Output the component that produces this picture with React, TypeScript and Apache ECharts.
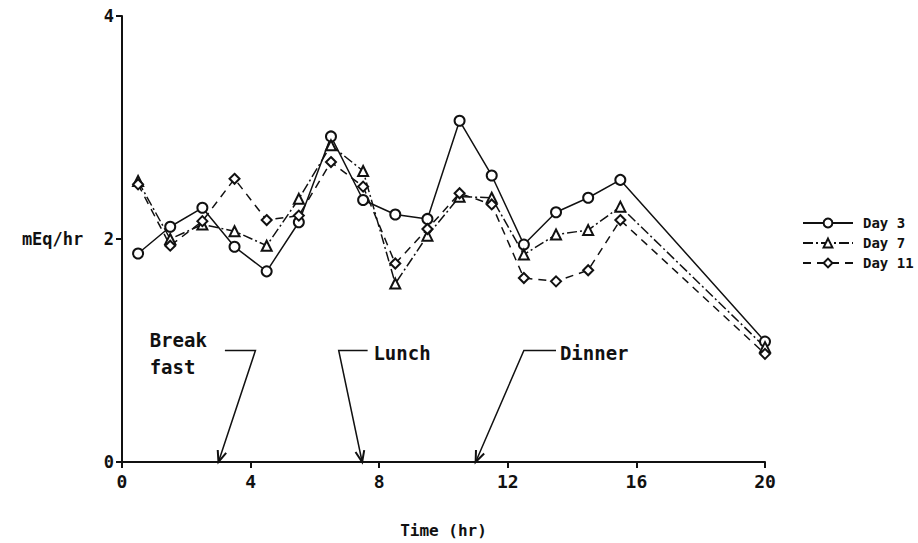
import React, { useEffect, useRef } from "react";
import * as echarts from "echarts";

// Sampling times (hr) and excretion rates (mEq/hr)
const hours = [0.5, 1.5, 2.5, 3.5, 4.5, 5.5, 6.5, 7.5, 8.5, 9.5, 10.5, 11.5, 12.5, 13.5, 14.5, 15.5, 20];
const day3 = [1.87, 2.11, 2.28, 1.93, 1.71, 2.15, 2.92, 2.35, 2.22, 2.18, 3.06, 2.57, 1.95, 2.24, 2.37, 2.53, 1.08];
const day7 = [2.52, 2.0, 2.13, 2.07, 1.94, 2.36, 2.84, 2.61, 1.6, 2.03, 2.38, 2.37, 1.86, 2.04, 2.08, 2.29, 1.03];
const day11 = [2.49, 1.94, 2.16, 2.54, 2.17, 2.21, 2.69, 2.47, 1.78, 2.09, 2.41, 2.31, 1.65, 1.62, 1.72, 2.17, 0.97];

const seriesNames = ["Day 3", "Day 7", "Day 11"];

// Meal times (hr) marked by arrows on the time axis
const mealLabels = ["Break\nfast", "Lunch", "Dinner"];
const mealTimes = [3.0, 7.47, 11.0];

// Callout geometry in axis units: leader runs from `from` to `elbow` at height `y`,
// then drops to the meal time on the axis; text is anchored at (textX, textY).
const callouts = [
  { from: 3.2, elbow: 4.15, y: 1.0, textX: 0.86, textY: 0.97 },
  { from: 7.64, elbow: 6.74, y: 1.0, textX: 7.82, textY: 0.98 },
  { from: 13.5, elbow: 12.5, y: 1.0, textX: 13.62, textY: 0.98 },
];

const FONT = "'DejaVu Sans Mono', 'Liberation Mono', monospace";
const INK = "#111";

const pairs = (ys: number[]) => hours.map((h, i) => [h, ys[i]]);

export default function App() {
  const ref = useRef<HTMLDivElement>(null);

  useEffect(() => {
    if (!ref.current) return;
    const chart = echarts.init(ref.current, null, { renderer: "svg" });

    const lineSeries = (name: string, ys: number[], symbol: string, size: number, dash: any) => ({
      name,
      type: "line",
      data: pairs(ys),
      symbol,
      symbolSize: size,
      showAllSymbol: true,
      lineStyle: { color: INK, width: 1.5, type: dash },
      itemStyle: { color: INK, borderColor: INK, borderWidth: 1.8 },
      z: 3,
    });

    chart.setOption({
      animation: false,
      backgroundColor: "#fff",
      grid: { left: 122, right: 153, top: 16, bottom: 78 },
      xAxis: {
        type: "value",
        min: 0,
        max: 20,
        interval: 4,
        name: "Time (hr)",
        nameLocation: "middle",
        nameGap: 60,
        nameTextStyle: { fontFamily: FONT, fontSize: 16, fontWeight: "bold", color: INK },
        axisLine: { lineStyle: { color: INK, width: 2 } },
        axisTick: { show: true, length: 6, inside: false, lineStyle: { color: INK, width: 2 } },
        axisLabel: { fontFamily: FONT, fontSize: 18, fontWeight: "bold", color: INK, margin: 10 },
        splitLine: { show: false },
      },
      yAxis: {
        type: "value",
        min: 0,
        max: 4,
        interval: 2,
        axisLine: { show: true, lineStyle: { color: INK, width: 2 } },
        axisTick: { show: true, length: 6, lineStyle: { color: INK, width: 2 } },
        axisLabel: {
          fontFamily: FONT,
          fontSize: 17,
          fontWeight: "bold",
          color: INK,
          margin: 8,
          formatter: (v: number) => (v === 2 ? "mEq/hr  2" : String(v)),
        },
        splitLine: { show: false },
      },
      legend: {
        orient: "vertical",
        left: 797,
        top: 211,
        itemWidth: 50,
        itemHeight: 11,
        itemGap: 6,
        data: seriesNames,
        textStyle: { fontFamily: FONT, fontSize: 14, fontWeight: "bold", color: INK, padding: [0, 0, 0, 5] },
      },
      series: [
        lineSeries(seriesNames[0], day3, "emptyCircle", 10, "solid"),
        lineSeries(seriesNames[1], day7, "emptyTriangle", 10, [10, 3, 2, 3]),
        lineSeries(seriesNames[2], day11, "emptyDiamond", 10, [8, 6]),
      ],
    });

    // Meal callouts: leader line, drop line and open arrowhead at the axis
    const px = (x: number, y: number) => chart.convertToPixel({ gridIndex: 0 }, [x, y]) as number[];
    const graphics: any[] = [];
    callouts.forEach((c, i) => {
      const a = px(c.from, c.y);
      const b = px(c.elbow, c.y);
      const t = px(mealTimes[i], 0);
      const stroke = { stroke: INK, lineWidth: 1.5, fill: null };
      graphics.push({ type: "polyline", shape: { points: [a, b, t] }, style: stroke, z: 10 });
      const dx = t[0] - b[0];
      const dy = t[1] - b[1];
      const len = Math.hypot(dx, dy);
      const ux = dx / len;
      const uy = dy / len;
      const L = 12;
      const ang = 0.38;
      const head = (s: number) => {
        const c1 = Math.cos(s * ang);
        const s1 = Math.sin(s * ang);
        return [t[0] - L * (ux * c1 - uy * s1), t[1] - L * (ux * s1 + uy * c1)];
      };
      graphics.push({
        type: "polyline",
        shape: { points: [head(1), t, head(-1)] },
        style: { stroke: INK, lineWidth: 2, fill: null },
        z: 10,
      });
      const p = px(c.textX, c.textY);
      graphics.push({
        type: "text",
        x: p[0],
        y: p[1],
        z: 10,
        style: {
          text: mealLabels[i],
          fontFamily: FONT,
          fontSize: 19,
          fontWeight: "bold",
          fill: INK,
          lineHeight: 27,
          align: "left",
          verticalAlign: "middle",
          textAlign: "left",
          textVerticalAlign: "middle",
        },
      });
    });
    chart.setOption({ graphic: graphics });

    return () => chart.dispose();
  }, []);

  return (
    <div
      ref={ref}
      style={{ position: "fixed", left: 0, top: 0, width: 918, height: 543 }}
    />
  );
}
